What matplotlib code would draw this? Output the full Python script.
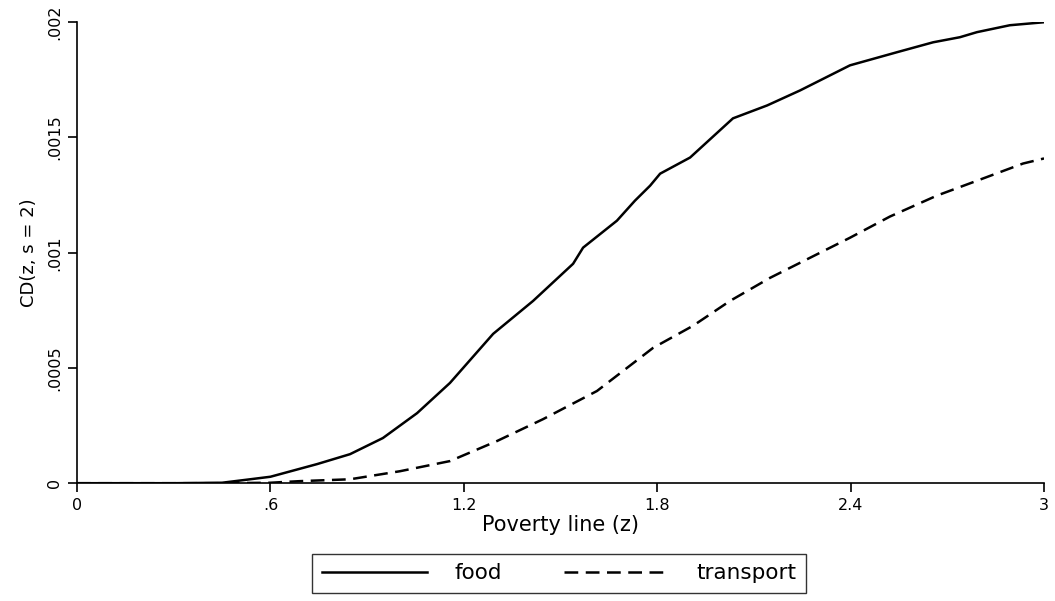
import matplotlib
matplotlib.use("Agg")
import matplotlib.pyplot as plt

plt.rcParams["font.family"] = ["DejaVu Sans"]

# poverty line grid and curves read at irregular points
food_z = [0.0, 0.30, 0.45, 0.537, 0.60, 0.745, 0.847, 0.949, 1.055, 1.157,
          1.291, 1.415, 1.539, 1.570, 1.675, 1.731, 1.778, 1.809, 1.902,
          2.035, 2.141, 2.243, 2.398, 2.544, 2.656, 2.739, 2.792, 2.894, 3.0]
food_cd = [0.0, 0.0, 0.000002, 0.000017, 0.000028, 0.000083, 0.000126,
           0.000196, 0.000304, 0.000435, 0.000648, 0.000791, 0.000952,
           0.001022, 0.001139, 0.001226, 0.001291, 0.001343, 0.001413,
           0.001583, 0.001639, 0.001704, 0.001813, 0.00187, 0.001913,
           0.001935, 0.001957, 0.001987, 0.002]

transport_z = [0.0, 0.45, 0.60, 0.692, 0.847, 1.002, 1.157, 1.303, 1.446,
               1.613, 1.787, 1.911, 2.026, 2.150, 2.274, 2.398, 2.522, 2.668,
               2.801, 2.935, 3.0]
transport_cd = [0.0, 0.0, 0.000002, 0.000009, 0.000017, 0.000052, 0.000096,
                0.000183, 0.000278, 0.0004, 0.000587, 0.000683, 0.000791,
                0.000891, 0.000978, 0.001065, 0.001157, 0.001248, 0.001317,
                0.001387, 0.001409]

x_ticks = [0, 0.6, 1.2, 1.8, 2.4, 3]
x_labels = ["0", ".6", "1.2", "1.8", "2.4", "3"]
y_ticks = [0, 0.0005, 0.001, 0.0015, 0.002]
y_labels = ["0", ".0005", ".001", ".0015", ".002"]

fig = plt.figure(figsize=(10.55, 6.01), dpi=100)
ax = fig.add_axes([0.073, 0.196, 0.9166, 0.767])

ax.plot(food_z, food_cd, color="black", lw=1.8, label="food")
ax.plot(transport_z, transport_cd, color="black", lw=1.8,
        dashes=(5.5, 3.0), label="transport")

ax.set_xlim(0, 3)
ax.set_ylim(0, 0.002)
ax.set_xticks(x_ticks)
ax.set_xticklabels(x_labels)
ax.set_yticks(y_ticks)
ax.set_yticklabels(y_labels, rotation=90, va="center")

for side in ("top", "right"):
    ax.spines[side].set_visible(False)
for side in ("left", "bottom"):
    ax.spines[side].set_linewidth(1.2)
    ax.spines[side].set_color("black")

ax.tick_params(direction="out", length=6.5, width=1.2, labelsize=11.5, colors="black")
ax.tick_params(axis="y", pad=4)
ax.tick_params(axis="x", pad=4.5)

ax.set_xlabel("Poverty line (z)", fontsize=15, labelpad=1)
ax.set_ylabel("CD(z, s = 2)", fontsize=13, labelpad=7)

leg = fig.legend(loc="center", bbox_to_anchor=(0.530, 0.0458), ncol=2,
                 fontsize=15.5, handlelength=4.9, handletextpad=1.25,
                 columnspacing=2.9, fancybox=False, frameon=True,
                 borderpad=0.45)
leg.get_frame().set_edgecolor("black")
leg.get_frame().set_linewidth(1.0)

fig.savefig("out.png", dpi=100)
